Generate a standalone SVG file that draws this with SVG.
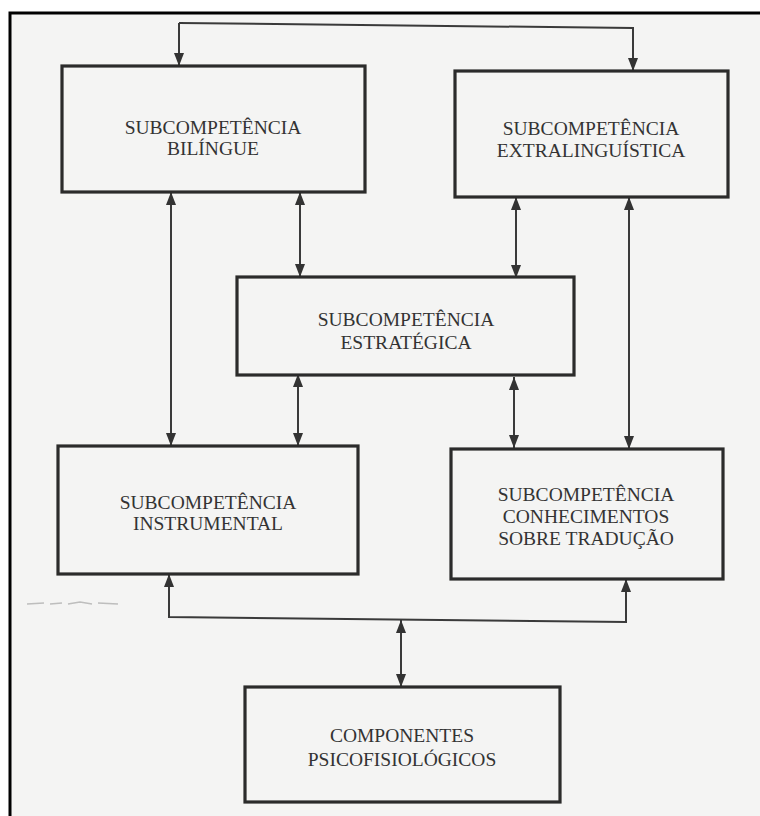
<svg xmlns="http://www.w3.org/2000/svg" width="760" height="816" viewBox="0 0 760 816">
  <defs>
    <style>
      .box { fill: none; stroke: #2b2b2b; stroke-width: 3.2; }
      .wire { fill: none; stroke: #3a3a3a; stroke-width: 2; }
      .label { font-family: "Liberation Serif", "Times New Roman", serif; font-size: 19.5px; fill: #333; text-anchor: middle; }
    </style>
    <marker id="arrow" viewBox="0 0 13 10" refX="13" refY="5" markerWidth="13" markerHeight="10" markerUnits="userSpaceOnUse" orient="auto-start-reverse">
      <path d="M0,0 L13,5 L0,10 z" fill="#333"/>
    </marker>
  </defs>

  <!-- page and frame -->
  <rect x="0" y="0" width="760" height="816" fill="#ffffff"/>
  <rect x="10" y="13" width="800" height="900" fill="#f4f4f3" stroke="#000" stroke-width="3"/>

  <!-- connectors -->
  <g id="connectors">
    <polyline class="wire" points="179,23 633,28 633,71" marker-end="url(#arrow)"/>
    <line class="wire" x1="179" y1="23" x2="179" y2="66" marker-end="url(#arrow)"/>

    <line class="wire" x1="171" y1="192" x2="171" y2="446" marker-start="url(#arrow)" marker-end="url(#arrow)"/>
    <line class="wire" x1="300" y1="192" x2="300" y2="277" marker-start="url(#arrow)" marker-end="url(#arrow)"/>
    <line class="wire" x1="516" y1="197" x2="516" y2="278" marker-start="url(#arrow)" marker-end="url(#arrow)"/>
    <line class="wire" x1="629" y1="197" x2="629" y2="449" marker-start="url(#arrow)" marker-end="url(#arrow)"/>

    <line class="wire" x1="298" y1="374" x2="298" y2="446" marker-start="url(#arrow)" marker-end="url(#arrow)"/>
    <line class="wire" x1="514" y1="377" x2="514" y2="448" marker-start="url(#arrow)" marker-end="url(#arrow)"/>

    <polyline class="wire" points="169,574 169,617 626,622 626,579" marker-start="url(#arrow)" marker-end="url(#arrow)"/>
    <line class="wire" x1="401" y1="620" x2="401" y2="687" marker-start="url(#arrow)" marker-end="url(#arrow)"/>
  </g>

  <!-- faint scan marks -->
  <path d="M27,604 L44,603 M50,604 L62,603 M68,604 L80,602 L92,604 M98,603 L118,604" stroke="#9a9a9a" stroke-width="1.5" fill="none" opacity="0.6"/>

  <g id="bilingue">
    <rect class="box" x="62" y="66" width="303" height="126"/>
    <text class="label" x="213" y="134">SUBCOMPETÊNCIA</text>
    <text class="label" x="213" y="155">BILÍNGUE</text>
  </g>

  <g id="extralinguistica">
    <rect class="box" x="455" y="71" width="273" height="126"/>
    <text class="label" x="591" y="135">SUBCOMPETÊNCIA</text>
    <text class="label" x="591" y="157">EXTRALINGUÍSTICA</text>
  </g>

  <g id="estrategica">
    <rect class="box" x="237" y="277" width="337" height="98"/>
    <text class="label" x="406" y="326">SUBCOMPETÊNCIA</text>
    <text class="label" x="406" y="349">ESTRATÉGICA</text>
  </g>

  <g id="instrumental">
    <rect class="box" x="58" y="446" width="300" height="128"/>
    <text class="label" x="208" y="509">SUBCOMPETÊNCIA</text>
    <text class="label" x="208" y="530">INSTRUMENTAL</text>
  </g>

  <g id="conhecimentos">
    <rect class="box" x="451" y="449" width="272" height="130"/>
    <text class="label" x="586" y="501">SUBCOMPETÊNCIA</text>
    <text class="label" x="586" y="523">CONHECIMENTOS</text>
    <text class="label" x="586" y="545">SOBRE TRADUÇÃO</text>
  </g>

  <g id="psicofisiologicos">
    <rect class="box" x="245" y="687" width="315" height="115"/>
    <text class="label" x="402" y="742">COMPONENTES</text>
    <text class="label" x="402" y="766">PSICOFISIOLÓGICOS</text>
  </g>
</svg>
